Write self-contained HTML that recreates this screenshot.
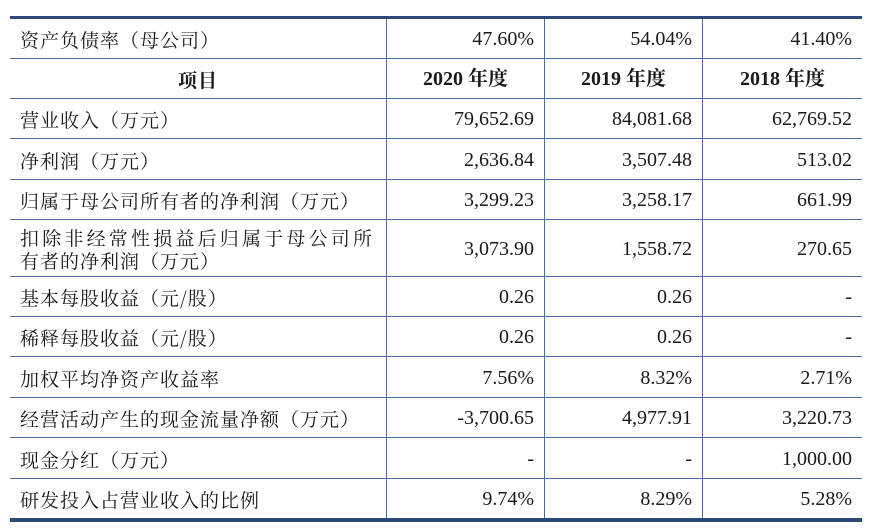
<!DOCTYPE html>
<html><head><meta charset="utf-8"><style>
body{margin:0;width:870px;height:532px;background:#fff;overflow:hidden;position:relative;font-family:"Liberation Serif","Noto Serif CJK SC",serif;color:#1a1a1a}
table{position:absolute;left:10px;top:16px;width:852px;border-collapse:collapse;font-size:20px}
td{border-bottom:1px solid #4d6d9c;padding:2px 10px 0;line-height:23px}
td+td{border-left:1px solid #4d6d9c;text-align:right}
tr:first-child td{border-top:3px solid #2c4a78}
tr:last-child td{border-bottom:4px solid #2c4a78}
td:first-child{width:356px;font-family:"Noto Serif CJK SC","Noto Sans CJK SC",serif;font-size:19px;letter-spacing:1px}
td:nth-child(2),td:nth-child(3){width:137px}
.h td{font-weight:bold;text-align:center}
.w{letter-spacing:3.2px !important}
</style></head><body>
<table>
<tr style="height:41px"><td>资产负债率（母公司）</td><td>47.60%</td><td>54.04%</td><td>41.40%</td></tr>
<tr class="h" style="height:40px"><td>项目</td><td>2020 年度</td><td>2019 年度</td><td>2018 年度</td></tr>
<tr style="height:40px"><td>营业收入（万元）</td><td>79,652.69</td><td>84,081.68</td><td>62,769.52</td></tr>
<tr style="height:41px"><td>净利润（万元）</td><td>2,636.84</td><td>3,507.48</td><td>513.02</td></tr>
<tr style="height:40px"><td>归属于母公司所有者的净利润（万元）</td><td>3,299.23</td><td>3,258.17</td><td>661.99</td></tr>
<tr style="height:57px"><td><span class="w">扣除非经常性损益后归属于母公司所</span><br>有者的净利润（万元）</td><td>3,073.90</td><td>1,558.72</td><td>270.65</td></tr>
<tr style="height:40px"><td>基本每股收益（元/股）</td><td>0.26</td><td>0.26</td><td>-</td></tr>
<tr style="height:40px"><td>稀释每股收益（元/股）</td><td>0.26</td><td>0.26</td><td>-</td></tr>
<tr style="height:41px"><td>加权平均净资产收益率</td><td>7.56%</td><td>8.32%</td><td>2.71%</td></tr>
<tr style="height:40px"><td>经营活动产生的现金流量净额（万元）</td><td>-3,700.65</td><td>4,977.91</td><td>3,220.73</td></tr>
<tr style="height:41px"><td>现金分红（万元）</td><td>-</td><td>-</td><td>1,000.00</td></tr>
<tr style="height:41px"><td>研发投入占营业收入的比例</td><td>9.74%</td><td>8.29%</td><td>5.28%</td></tr>
</table>
</body></html>
